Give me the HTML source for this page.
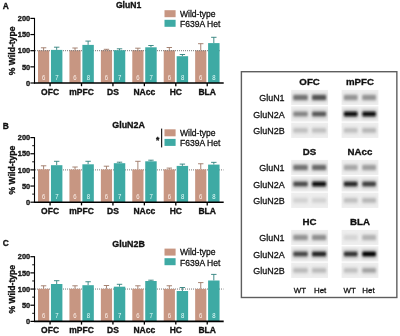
<!DOCTYPE html>
<html><head><meta charset="utf-8"><style>
html,body{margin:0;padding:0;background:#fff;width:400px;height:336px;overflow:hidden}
svg{display:block;will-change:transform}
text{font-family:"Liberation Sans", sans-serif;fill:#111}
.b{font-weight:bold;stroke:#111;stroke-width:0.32px}
.r{stroke:#111;stroke-width:0.28px}
.nn{fill:#fbeee8;stroke:none}
.nt{fill:#e4fbf9}
</style></head><body>
<svg width="400" height="336" viewBox="0 0 400 336">
<defs>
<filter id="blur" x="-30%" y="-100%" width="160%" height="300%"><feGaussianBlur stdDeviation="1.0"/></filter>
<filter id="halo" x="-30%" y="-60%" width="160%" height="220%"><feGaussianBlur stdDeviation="1.5"/></filter>
<filter id="soft" x="-10%" y="-20%" width="120%" height="140%"><feGaussianBlur stdDeviation="0.5"/></filter>
</defs>
<rect width="400" height="336" fill="#fff"/>
<text x="2.7" y="8.60" class="b" font-size="8.4">A</text>
<text x="128.6" y="8.20" class="b" font-size="8.6" text-anchor="middle">GluN1</text>
<rect x="164.5" y="10.20" width="11.1" height="7" fill="#c79682"/>
<rect x="164.5" y="19.80" width="11.1" height="7.0" fill="#3eaaa4"/>
<text x="180" y="17.00" class="r" font-size="8.55">Wild-type</text>
<text x="180" y="27.10" class="r" font-size="8.55">F639A Het</text>
<text transform="translate(15.2 50.90) rotate(-90)" x="0" y="0" class="b" font-size="8.6" text-anchor="middle">% Wild-type</text>
<line x1="43.60" y1="50.30" x2="43.60" y2="47.80" stroke="#9c7664" stroke-width="0.9"/>
<line x1="40.90" y1="47.80" x2="46.30" y2="47.80" stroke="#9c7664" stroke-width="0.9"/>
<rect x="38.00" y="50.30" width="11.2" height="32.70" fill="#c79682"/>
<line x1="75.03" y1="50.30" x2="75.03" y2="48.00" stroke="#9c7664" stroke-width="0.9"/>
<line x1="72.33" y1="48.00" x2="77.73" y2="48.00" stroke="#9c7664" stroke-width="0.9"/>
<rect x="69.43" y="50.30" width="11.2" height="32.70" fill="#c79682"/>
<line x1="106.46" y1="50.20" x2="106.46" y2="49.30" stroke="#9c7664" stroke-width="0.9"/>
<line x1="103.76" y1="49.30" x2="109.16" y2="49.30" stroke="#9c7664" stroke-width="0.9"/>
<rect x="100.86" y="50.20" width="11.2" height="32.80" fill="#c79682"/>
<line x1="137.89" y1="50.20" x2="137.89" y2="48.20" stroke="#9c7664" stroke-width="0.9"/>
<line x1="135.19" y1="48.20" x2="140.59" y2="48.20" stroke="#9c7664" stroke-width="0.9"/>
<rect x="132.29" y="50.20" width="11.2" height="32.80" fill="#c79682"/>
<line x1="169.32" y1="50.30" x2="169.32" y2="47.50" stroke="#9c7664" stroke-width="0.9"/>
<line x1="166.62" y1="47.50" x2="172.02" y2="47.50" stroke="#9c7664" stroke-width="0.9"/>
<rect x="163.72" y="50.30" width="11.2" height="32.70" fill="#c79682"/>
<line x1="200.75" y1="50.40" x2="200.75" y2="43.70" stroke="#9c7664" stroke-width="0.9"/>
<line x1="198.05" y1="43.70" x2="203.45" y2="43.70" stroke="#9c7664" stroke-width="0.9"/>
<rect x="195.15" y="50.40" width="11.2" height="32.60" fill="#c79682"/>
<line x1="35" y1="50.70" x2="219.8" y2="50.70" stroke="#777777" stroke-width="1" stroke-dasharray="1 1"/>
<line x1="56.68" y1="49.90" x2="56.68" y2="47.20" stroke="#2f807c" stroke-width="0.9"/>
<line x1="53.98" y1="47.20" x2="59.38" y2="47.20" stroke="#2f807c" stroke-width="0.9"/>
<rect x="50.95" y="49.90" width="11.45" height="33.10" fill="#3eaaa4"/>
<line x1="88.11" y1="44.90" x2="88.11" y2="41.10" stroke="#2f807c" stroke-width="0.9"/>
<line x1="85.41" y1="41.10" x2="90.81" y2="41.10" stroke="#2f807c" stroke-width="0.9"/>
<rect x="82.38" y="44.90" width="11.45" height="38.10" fill="#3eaaa4"/>
<line x1="119.53" y1="50.20" x2="119.53" y2="48.80" stroke="#2f807c" stroke-width="0.9"/>
<line x1="116.83" y1="48.80" x2="122.23" y2="48.80" stroke="#2f807c" stroke-width="0.9"/>
<rect x="113.81" y="50.20" width="11.45" height="32.80" fill="#3eaaa4"/>
<line x1="150.96" y1="47.30" x2="150.96" y2="45.50" stroke="#2f807c" stroke-width="0.9"/>
<line x1="148.26" y1="45.50" x2="153.66" y2="45.50" stroke="#2f807c" stroke-width="0.9"/>
<rect x="145.24" y="47.30" width="11.45" height="35.70" fill="#3eaaa4"/>
<line x1="182.39" y1="56.20" x2="182.39" y2="54.50" stroke="#2f807c" stroke-width="0.9"/>
<line x1="179.69" y1="54.50" x2="185.09" y2="54.50" stroke="#2f807c" stroke-width="0.9"/>
<rect x="176.67" y="56.20" width="11.45" height="26.80" fill="#3eaaa4"/>
<line x1="213.82" y1="43.10" x2="213.82" y2="37.30" stroke="#2f807c" stroke-width="0.9"/>
<line x1="211.12" y1="37.30" x2="216.52" y2="37.30" stroke="#2f807c" stroke-width="0.9"/>
<rect x="208.10" y="43.10" width="11.45" height="39.90" fill="#3eaaa4"/>
<text transform="translate(43.60 79.70) scale(1 1.2)" class="r nn" font-size="6" text-anchor="middle">6</text>
<text transform="translate(56.88 79.70) scale(1 1.2)" class="r nn nt" font-size="6" text-anchor="middle">7</text>
<line x1="50.08" y1="83.00" x2="50.08" y2="86.20" stroke="#000" stroke-width="1.3"/>
<text x="50.08" y="94.80" class="b" font-size="8.5" text-anchor="middle">OFC</text>
<text transform="translate(75.03 79.70) scale(1 1.2)" class="r nn" font-size="6" text-anchor="middle">6</text>
<text transform="translate(88.31 79.70) scale(1 1.2)" class="r nn nt" font-size="6" text-anchor="middle">8</text>
<line x1="81.51" y1="83.00" x2="81.51" y2="86.20" stroke="#000" stroke-width="1.3"/>
<text x="81.51" y="94.80" class="b" font-size="8.5" text-anchor="middle">mPFC</text>
<text transform="translate(106.46 79.70) scale(1 1.2)" class="r nn" font-size="6" text-anchor="middle">6</text>
<text transform="translate(119.73 79.70) scale(1 1.2)" class="r nn nt" font-size="6" text-anchor="middle">7</text>
<line x1="112.94" y1="83.00" x2="112.94" y2="86.20" stroke="#000" stroke-width="1.3"/>
<text x="112.94" y="94.80" class="b" font-size="8.5" text-anchor="middle">DS</text>
<text transform="translate(137.89 79.70) scale(1 1.2)" class="r nn" font-size="6" text-anchor="middle">6</text>
<text transform="translate(151.16 79.70) scale(1 1.2)" class="r nn nt" font-size="6" text-anchor="middle">7</text>
<line x1="144.36" y1="83.00" x2="144.36" y2="86.20" stroke="#000" stroke-width="1.3"/>
<text x="144.36" y="94.80" class="b" font-size="8.5" text-anchor="middle">NAcc</text>
<text transform="translate(169.32 79.70) scale(1 1.2)" class="r nn" font-size="6" text-anchor="middle">6</text>
<text transform="translate(182.59 79.70) scale(1 1.2)" class="r nn nt" font-size="6" text-anchor="middle">8</text>
<line x1="175.79" y1="83.00" x2="175.79" y2="86.20" stroke="#000" stroke-width="1.3"/>
<text x="175.79" y="94.80" class="b" font-size="8.5" text-anchor="middle">HC</text>
<text transform="translate(200.75 79.70) scale(1 1.2)" class="r nn" font-size="6" text-anchor="middle">6</text>
<text transform="translate(214.02 79.70) scale(1 1.2)" class="r nn nt" font-size="6" text-anchor="middle">8</text>
<line x1="207.22" y1="83.00" x2="207.22" y2="86.20" stroke="#000" stroke-width="1.3"/>
<text x="207.22" y="94.80" class="b" font-size="8.5" text-anchor="middle">BLA</text>
<line x1="34.50" y1="17.90" x2="34.50" y2="83.60" stroke="#000" stroke-width="1.1"/>
<line x1="33.90" y1="83.00" x2="223.7" y2="83.00" stroke="#000" stroke-width="1.6"/>
<line x1="30.4" y1="83.00" x2="34.50" y2="83.00" stroke="#000" stroke-width="1.2"/>
<text x="30.2" y="85.70" class="b" font-size="7.4" text-anchor="end">0</text>
<line x1="30.4" y1="66.85" x2="34.50" y2="66.85" stroke="#000" stroke-width="1.2"/>
<text x="30.2" y="69.55" class="b" font-size="7.4" text-anchor="end">50</text>
<line x1="30.4" y1="50.70" x2="34.50" y2="50.70" stroke="#000" stroke-width="1.2"/>
<text x="30.2" y="53.40" class="b" font-size="7.4" text-anchor="end">100</text>
<line x1="30.4" y1="34.55" x2="34.50" y2="34.55" stroke="#000" stroke-width="1.2"/>
<text x="30.2" y="37.25" class="b" font-size="7.4" text-anchor="end">150</text>
<line x1="30.4" y1="18.40" x2="34.50" y2="18.40" stroke="#000" stroke-width="1.2"/>
<text x="30.2" y="21.10" class="b" font-size="7.4" text-anchor="end">200</text>
<text x="2.7" y="129.10" class="b" font-size="8.4">B</text>
<text x="128.6" y="127.90" class="b" font-size="8.9" text-anchor="middle">GluN2A</text>
<rect x="164.5" y="129.30" width="11.1" height="7" fill="#c79682"/>
<rect x="164.5" y="138.90" width="11.1" height="7.0" fill="#3eaaa4"/>
<text x="180" y="136.10" class="r" font-size="8.55">Wild-type</text>
<text x="180" y="146.20" class="r" font-size="8.55">F639A Het</text>
<rect x="161.0" y="128.6" width="1.2" height="18.8" fill="#222"/>
<text x="157.6" y="142.6" class="b" font-size="8.5" text-anchor="middle">*</text>
<text transform="translate(15.2 170.10) rotate(-90)" x="0" y="0" class="b" font-size="8.6" text-anchor="middle">% Wild-type</text>
<line x1="35" y1="169.90" x2="223.5" y2="169.90" stroke="#777777" stroke-width="1" stroke-dasharray="1 1"/>
<line x1="43.60" y1="169.30" x2="43.60" y2="165.80" stroke="#9c7664" stroke-width="0.9"/>
<line x1="40.90" y1="165.80" x2="46.30" y2="165.80" stroke="#9c7664" stroke-width="0.9"/>
<rect x="38.00" y="169.30" width="11.2" height="32.90" fill="#c79682"/>
<line x1="75.03" y1="169.50" x2="75.03" y2="167.00" stroke="#9c7664" stroke-width="0.9"/>
<line x1="72.33" y1="167.00" x2="77.73" y2="167.00" stroke="#9c7664" stroke-width="0.9"/>
<rect x="69.43" y="169.50" width="11.2" height="32.70" fill="#c79682"/>
<line x1="106.46" y1="169.50" x2="106.46" y2="166.20" stroke="#9c7664" stroke-width="0.9"/>
<line x1="103.76" y1="166.20" x2="109.16" y2="166.20" stroke="#9c7664" stroke-width="0.9"/>
<rect x="100.86" y="169.50" width="11.2" height="32.70" fill="#c79682"/>
<line x1="137.89" y1="169.50" x2="137.89" y2="161.30" stroke="#9c7664" stroke-width="0.9"/>
<line x1="135.19" y1="161.30" x2="140.59" y2="161.30" stroke="#9c7664" stroke-width="0.9"/>
<rect x="132.29" y="169.50" width="11.2" height="32.70" fill="#c79682"/>
<line x1="169.32" y1="169.40" x2="169.32" y2="168.10" stroke="#9c7664" stroke-width="0.9"/>
<line x1="166.62" y1="168.10" x2="172.02" y2="168.10" stroke="#9c7664" stroke-width="0.9"/>
<rect x="163.72" y="169.40" width="11.2" height="32.80" fill="#c79682"/>
<line x1="200.75" y1="169.40" x2="200.75" y2="163.75" stroke="#9c7664" stroke-width="0.9"/>
<line x1="198.05" y1="163.75" x2="203.45" y2="163.75" stroke="#9c7664" stroke-width="0.9"/>
<rect x="195.15" y="169.40" width="11.2" height="32.80" fill="#c79682"/>
<line x1="56.68" y1="165.20" x2="56.68" y2="161.30" stroke="#2f807c" stroke-width="0.9"/>
<line x1="53.98" y1="161.30" x2="59.38" y2="161.30" stroke="#2f807c" stroke-width="0.9"/>
<rect x="50.95" y="165.20" width="11.45" height="37.00" fill="#3eaaa4"/>
<line x1="88.11" y1="164.30" x2="88.11" y2="161.30" stroke="#2f807c" stroke-width="0.9"/>
<line x1="85.41" y1="161.30" x2="90.81" y2="161.30" stroke="#2f807c" stroke-width="0.9"/>
<rect x="82.38" y="164.30" width="11.45" height="37.90" fill="#3eaaa4"/>
<line x1="119.53" y1="163.20" x2="119.53" y2="162.20" stroke="#2f807c" stroke-width="0.9"/>
<line x1="116.83" y1="162.20" x2="122.23" y2="162.20" stroke="#2f807c" stroke-width="0.9"/>
<rect x="113.81" y="163.20" width="11.45" height="39.00" fill="#3eaaa4"/>
<line x1="150.96" y1="161.30" x2="150.96" y2="160.20" stroke="#2f807c" stroke-width="0.9"/>
<line x1="148.26" y1="160.20" x2="153.66" y2="160.20" stroke="#2f807c" stroke-width="0.9"/>
<rect x="145.24" y="161.30" width="11.45" height="40.90" fill="#3eaaa4"/>
<line x1="182.39" y1="165.90" x2="182.39" y2="164.10" stroke="#2f807c" stroke-width="0.9"/>
<line x1="179.69" y1="164.10" x2="185.09" y2="164.10" stroke="#2f807c" stroke-width="0.9"/>
<rect x="176.67" y="165.90" width="11.45" height="36.30" fill="#3eaaa4"/>
<line x1="213.82" y1="164.60" x2="213.82" y2="162.35" stroke="#2f807c" stroke-width="0.9"/>
<line x1="211.12" y1="162.35" x2="216.52" y2="162.35" stroke="#2f807c" stroke-width="0.9"/>
<rect x="208.10" y="164.60" width="11.45" height="37.60" fill="#3eaaa4"/>
<text transform="translate(43.60 198.90) scale(1 1.2)" class="r nn" font-size="6" text-anchor="middle">6</text>
<text transform="translate(56.88 198.90) scale(1 1.2)" class="r nn nt" font-size="6" text-anchor="middle">7</text>
<line x1="50.08" y1="202.20" x2="50.08" y2="205.40" stroke="#000" stroke-width="1.3"/>
<text x="50.08" y="214.00" class="b" font-size="8.5" text-anchor="middle">OFC</text>
<text transform="translate(75.03 198.90) scale(1 1.2)" class="r nn" font-size="6" text-anchor="middle">6</text>
<text transform="translate(88.31 198.90) scale(1 1.2)" class="r nn nt" font-size="6" text-anchor="middle">8</text>
<line x1="81.51" y1="202.20" x2="81.51" y2="205.40" stroke="#000" stroke-width="1.3"/>
<text x="81.51" y="214.00" class="b" font-size="8.5" text-anchor="middle">mPFC</text>
<text transform="translate(106.46 198.90) scale(1 1.2)" class="r nn" font-size="6" text-anchor="middle">6</text>
<text transform="translate(119.73 198.90) scale(1 1.2)" class="r nn nt" font-size="6" text-anchor="middle">7</text>
<line x1="112.94" y1="202.20" x2="112.94" y2="205.40" stroke="#000" stroke-width="1.3"/>
<text x="112.94" y="214.00" class="b" font-size="8.5" text-anchor="middle">DS</text>
<text transform="translate(137.89 198.90) scale(1 1.2)" class="r nn" font-size="6" text-anchor="middle">6</text>
<text transform="translate(151.16 198.90) scale(1 1.2)" class="r nn nt" font-size="6" text-anchor="middle">7</text>
<line x1="144.36" y1="202.20" x2="144.36" y2="205.40" stroke="#000" stroke-width="1.3"/>
<text x="144.36" y="214.00" class="b" font-size="8.5" text-anchor="middle">NAcc</text>
<text transform="translate(169.32 198.90) scale(1 1.2)" class="r nn" font-size="6" text-anchor="middle">6</text>
<text transform="translate(182.59 198.90) scale(1 1.2)" class="r nn nt" font-size="6" text-anchor="middle">8</text>
<line x1="175.79" y1="202.20" x2="175.79" y2="205.40" stroke="#000" stroke-width="1.3"/>
<text x="175.79" y="214.00" class="b" font-size="8.5" text-anchor="middle">HC</text>
<text transform="translate(200.75 198.90) scale(1 1.2)" class="r nn" font-size="6" text-anchor="middle">6</text>
<text transform="translate(214.02 198.90) scale(1 1.2)" class="r nn nt" font-size="6" text-anchor="middle">8</text>
<line x1="207.22" y1="202.20" x2="207.22" y2="205.40" stroke="#000" stroke-width="1.3"/>
<text x="207.22" y="214.00" class="b" font-size="8.5" text-anchor="middle">BLA</text>
<line x1="34.50" y1="137.10" x2="34.50" y2="202.80" stroke="#000" stroke-width="1.1"/>
<line x1="33.90" y1="202.20" x2="223.7" y2="202.20" stroke="#000" stroke-width="1.6"/>
<line x1="30.4" y1="202.20" x2="34.50" y2="202.20" stroke="#000" stroke-width="1.2"/>
<text x="30.2" y="204.90" class="b" font-size="7.4" text-anchor="end">0</text>
<line x1="30.4" y1="186.05" x2="34.50" y2="186.05" stroke="#000" stroke-width="1.2"/>
<text x="30.2" y="188.75" class="b" font-size="7.4" text-anchor="end">50</text>
<line x1="30.4" y1="169.90" x2="34.50" y2="169.90" stroke="#000" stroke-width="1.2"/>
<text x="30.2" y="172.60" class="b" font-size="7.4" text-anchor="end">100</text>
<line x1="30.4" y1="153.75" x2="34.50" y2="153.75" stroke="#000" stroke-width="1.2"/>
<text x="30.2" y="156.45" class="b" font-size="7.4" text-anchor="end">150</text>
<line x1="30.4" y1="137.60" x2="34.50" y2="137.60" stroke="#000" stroke-width="1.2"/>
<text x="30.2" y="140.30" class="b" font-size="7.4" text-anchor="end">200</text>
<line x1="32.2" y1="194.12" x2="34.50" y2="194.12" stroke="#111" stroke-width="1.0"/>
<line x1="32.2" y1="177.97" x2="34.50" y2="177.97" stroke="#111" stroke-width="1.0"/>
<line x1="32.2" y1="161.82" x2="34.50" y2="161.82" stroke="#111" stroke-width="1.0"/>
<line x1="32.2" y1="145.68" x2="34.50" y2="145.68" stroke="#111" stroke-width="1.0"/>
<text x="2.7" y="245.60" class="b" font-size="8.4">C</text>
<text x="128.6" y="247.20" class="b" font-size="8.9" text-anchor="middle">GluN2B</text>
<rect x="164.5" y="248.60" width="11.1" height="7" fill="#c79682"/>
<rect x="164.5" y="258.20" width="11.1" height="7.0" fill="#3eaaa4"/>
<text x="180" y="255.40" class="r" font-size="8.55">Wild-type</text>
<text x="180" y="265.50" class="r" font-size="8.55">F639A Het</text>
<text transform="translate(15.2 289.25) rotate(-90)" x="0" y="0" class="b" font-size="8.6" text-anchor="middle">% Wild-type</text>
<line x1="35" y1="289.05" x2="223.5" y2="289.05" stroke="#777777" stroke-width="1" stroke-dasharray="1 1"/>
<line x1="43.60" y1="288.80" x2="43.60" y2="285.80" stroke="#9c7664" stroke-width="0.9"/>
<line x1="40.90" y1="285.80" x2="46.30" y2="285.80" stroke="#9c7664" stroke-width="0.9"/>
<rect x="38.00" y="288.80" width="11.2" height="32.60" fill="#c79682"/>
<line x1="75.03" y1="288.80" x2="75.03" y2="285.80" stroke="#9c7664" stroke-width="0.9"/>
<line x1="72.33" y1="285.80" x2="77.73" y2="285.80" stroke="#9c7664" stroke-width="0.9"/>
<rect x="69.43" y="288.80" width="11.2" height="32.60" fill="#c79682"/>
<line x1="106.46" y1="288.80" x2="106.46" y2="285.50" stroke="#9c7664" stroke-width="0.9"/>
<line x1="103.76" y1="285.50" x2="109.16" y2="285.50" stroke="#9c7664" stroke-width="0.9"/>
<rect x="100.86" y="288.80" width="11.2" height="32.60" fill="#c79682"/>
<line x1="137.89" y1="288.80" x2="137.89" y2="285.80" stroke="#9c7664" stroke-width="0.9"/>
<line x1="135.19" y1="285.80" x2="140.59" y2="285.80" stroke="#9c7664" stroke-width="0.9"/>
<rect x="132.29" y="288.80" width="11.2" height="32.60" fill="#c79682"/>
<line x1="169.32" y1="288.90" x2="169.32" y2="285.75" stroke="#9c7664" stroke-width="0.9"/>
<line x1="166.62" y1="285.75" x2="172.02" y2="285.75" stroke="#9c7664" stroke-width="0.9"/>
<rect x="163.72" y="288.90" width="11.2" height="32.50" fill="#c79682"/>
<line x1="200.75" y1="288.90" x2="200.75" y2="282.60" stroke="#9c7664" stroke-width="0.9"/>
<line x1="198.05" y1="282.60" x2="203.45" y2="282.60" stroke="#9c7664" stroke-width="0.9"/>
<rect x="195.15" y="288.90" width="11.2" height="32.50" fill="#c79682"/>
<line x1="56.68" y1="284.00" x2="56.68" y2="280.70" stroke="#2f807c" stroke-width="0.9"/>
<line x1="53.98" y1="280.70" x2="59.38" y2="280.70" stroke="#2f807c" stroke-width="0.9"/>
<rect x="50.95" y="284.00" width="11.45" height="37.40" fill="#3eaaa4"/>
<line x1="88.11" y1="285.20" x2="88.11" y2="281.75" stroke="#2f807c" stroke-width="0.9"/>
<line x1="85.41" y1="281.75" x2="90.81" y2="281.75" stroke="#2f807c" stroke-width="0.9"/>
<rect x="82.38" y="285.20" width="11.45" height="36.20" fill="#3eaaa4"/>
<line x1="119.53" y1="286.70" x2="119.53" y2="284.30" stroke="#2f807c" stroke-width="0.9"/>
<line x1="116.83" y1="284.30" x2="122.23" y2="284.30" stroke="#2f807c" stroke-width="0.9"/>
<rect x="113.81" y="286.70" width="11.45" height="34.70" fill="#3eaaa4"/>
<line x1="150.96" y1="281.00" x2="150.96" y2="280.20" stroke="#2f807c" stroke-width="0.9"/>
<line x1="148.26" y1="280.20" x2="153.66" y2="280.20" stroke="#2f807c" stroke-width="0.9"/>
<rect x="145.24" y="281.00" width="11.45" height="40.40" fill="#3eaaa4"/>
<line x1="182.39" y1="291.00" x2="182.39" y2="287.50" stroke="#2f807c" stroke-width="0.9"/>
<line x1="179.69" y1="287.50" x2="185.09" y2="287.50" stroke="#2f807c" stroke-width="0.9"/>
<rect x="176.67" y="291.00" width="11.45" height="30.40" fill="#3eaaa4"/>
<line x1="213.82" y1="280.50" x2="213.82" y2="274.40" stroke="#2f807c" stroke-width="0.9"/>
<line x1="211.12" y1="274.40" x2="216.52" y2="274.40" stroke="#2f807c" stroke-width="0.9"/>
<rect x="208.10" y="280.50" width="11.45" height="40.90" fill="#3eaaa4"/>
<text transform="translate(43.60 318.10) scale(1 1.2)" class="r nn" font-size="6" text-anchor="middle">6</text>
<text transform="translate(56.88 318.10) scale(1 1.2)" class="r nn nt" font-size="6" text-anchor="middle">7</text>
<line x1="50.08" y1="321.40" x2="50.08" y2="324.60" stroke="#000" stroke-width="1.3"/>
<text x="50.08" y="333.20" class="b" font-size="8.5" text-anchor="middle">OFC</text>
<text transform="translate(75.03 318.10) scale(1 1.2)" class="r nn" font-size="6" text-anchor="middle">6</text>
<text transform="translate(88.31 318.10) scale(1 1.2)" class="r nn nt" font-size="6" text-anchor="middle">8</text>
<line x1="81.51" y1="321.40" x2="81.51" y2="324.60" stroke="#000" stroke-width="1.3"/>
<text x="81.51" y="333.20" class="b" font-size="8.5" text-anchor="middle">mPFC</text>
<text transform="translate(106.46 318.10) scale(1 1.2)" class="r nn" font-size="6" text-anchor="middle">6</text>
<text transform="translate(119.73 318.10) scale(1 1.2)" class="r nn nt" font-size="6" text-anchor="middle">7</text>
<line x1="112.94" y1="321.40" x2="112.94" y2="324.60" stroke="#000" stroke-width="1.3"/>
<text x="112.94" y="333.20" class="b" font-size="8.5" text-anchor="middle">DS</text>
<text transform="translate(137.89 318.10) scale(1 1.2)" class="r nn" font-size="6" text-anchor="middle">6</text>
<text transform="translate(151.16 318.10) scale(1 1.2)" class="r nn nt" font-size="6" text-anchor="middle">7</text>
<line x1="144.36" y1="321.40" x2="144.36" y2="324.60" stroke="#000" stroke-width="1.3"/>
<text x="144.36" y="333.20" class="b" font-size="8.5" text-anchor="middle">NAcc</text>
<text transform="translate(169.32 318.10) scale(1 1.2)" class="r nn" font-size="6" text-anchor="middle">6</text>
<text transform="translate(182.59 318.10) scale(1 1.2)" class="r nn nt" font-size="6" text-anchor="middle">8</text>
<line x1="175.79" y1="321.40" x2="175.79" y2="324.60" stroke="#000" stroke-width="1.3"/>
<text x="175.79" y="333.20" class="b" font-size="8.5" text-anchor="middle">HC</text>
<text transform="translate(200.75 318.10) scale(1 1.2)" class="r nn" font-size="6" text-anchor="middle">6</text>
<text transform="translate(214.02 318.10) scale(1 1.2)" class="r nn nt" font-size="6" text-anchor="middle">8</text>
<line x1="207.22" y1="321.40" x2="207.22" y2="324.60" stroke="#000" stroke-width="1.3"/>
<text x="207.22" y="333.20" class="b" font-size="8.5" text-anchor="middle">BLA</text>
<line x1="34.50" y1="256.20" x2="34.50" y2="322.00" stroke="#000" stroke-width="1.1"/>
<line x1="33.90" y1="321.40" x2="223.7" y2="321.40" stroke="#000" stroke-width="1.6"/>
<line x1="30.4" y1="321.40" x2="34.50" y2="321.40" stroke="#000" stroke-width="1.2"/>
<text x="30.2" y="324.10" class="b" font-size="7.4" text-anchor="end">0</text>
<line x1="30.4" y1="305.22" x2="34.50" y2="305.22" stroke="#000" stroke-width="1.2"/>
<text x="30.2" y="307.92" class="b" font-size="7.4" text-anchor="end">50</text>
<line x1="30.4" y1="289.05" x2="34.50" y2="289.05" stroke="#000" stroke-width="1.2"/>
<text x="30.2" y="291.75" class="b" font-size="7.4" text-anchor="end">100</text>
<line x1="30.4" y1="272.88" x2="34.50" y2="272.88" stroke="#000" stroke-width="1.2"/>
<text x="30.2" y="275.57" class="b" font-size="7.4" text-anchor="end">150</text>
<line x1="30.4" y1="256.70" x2="34.50" y2="256.70" stroke="#000" stroke-width="1.2"/>
<text x="30.2" y="259.40" class="b" font-size="7.4" text-anchor="end">200</text>
<line x1="32.2" y1="313.31" x2="34.50" y2="313.31" stroke="#111" stroke-width="1.0"/>
<line x1="32.2" y1="297.14" x2="34.50" y2="297.14" stroke="#111" stroke-width="1.0"/>
<line x1="32.2" y1="280.96" x2="34.50" y2="280.96" stroke="#111" stroke-width="1.0"/>
<line x1="32.2" y1="264.79" x2="34.50" y2="264.79" stroke="#111" stroke-width="1.0"/>
<rect x="241.4" y="71.7" width="155.45" height="225.8" fill="none" stroke="#5e5e5e" stroke-width="1.4"/>
<text x="309.60" y="85.00" class="b" font-size="9.7" text-anchor="middle">OFC</text>
<rect x="291.20" y="89.90" width="36.8" height="15.2" fill="#eeeeee" filter="url(#soft)"/>
<rect x="292.60" y="93.10" width="15.80" height="9" fill="rgb(117,117,117)" opacity="0.22" filter="url(#halo)"/>
<rect x="293.40" y="95.10" width="14.20" height="5.0" rx="1.2" fill="rgb(117,117,117)" filter="url(#blur)"/>
<rect x="311.40" y="93.10" width="15.40" height="9" fill="rgb(84,84,84)" opacity="0.22" filter="url(#halo)"/>
<rect x="312.20" y="95.10" width="13.80" height="5.0" rx="1.2" fill="rgb(84,84,84)" filter="url(#blur)"/>
<rect x="291.20" y="106.30" width="36.8" height="15.2" fill="#eeeeee" filter="url(#soft)"/>
<rect x="292.60" y="109.50" width="15.80" height="9" fill="rgb(133,133,133)" opacity="0.22" filter="url(#halo)"/>
<rect x="293.40" y="111.80" width="14.20" height="4.4" rx="1.2" fill="rgb(133,133,133)" filter="url(#blur)"/>
<rect x="311.40" y="109.50" width="15.40" height="9" fill="rgb(89,89,89)" opacity="0.22" filter="url(#halo)"/>
<rect x="312.20" y="111.80" width="13.80" height="4.4" rx="1.2" fill="rgb(89,89,89)" filter="url(#blur)"/>
<rect x="291.20" y="122.70" width="36.8" height="15.2" fill="#eeeeee" filter="url(#soft)"/>
<rect x="292.60" y="125.90" width="15.80" height="9" fill="rgb(191,191,191)" opacity="0.22" filter="url(#halo)"/>
<rect x="293.40" y="128.20" width="14.20" height="4.4" rx="1.2" fill="rgb(191,191,191)" filter="url(#blur)"/>
<rect x="311.40" y="125.90" width="15.40" height="9" fill="rgb(191,191,191)" opacity="0.22" filter="url(#halo)"/>
<rect x="312.20" y="128.20" width="13.80" height="4.4" rx="1.2" fill="rgb(191,191,191)" filter="url(#blur)"/>
<text x="360.00" y="85.00" class="b" font-size="9.7" text-anchor="middle">mPFC</text>
<rect x="341.60" y="89.90" width="36.8" height="15.2" fill="#eeeeee" filter="url(#soft)"/>
<rect x="343.20" y="93.10" width="15.00" height="9" fill="rgb(149,149,149)" opacity="0.22" filter="url(#halo)"/>
<rect x="344.00" y="95.10" width="13.40" height="5.0" rx="1.2" fill="rgb(149,149,149)" filter="url(#blur)"/>
<rect x="361.60" y="93.10" width="15.00" height="9" fill="rgb(149,149,149)" opacity="0.22" filter="url(#halo)"/>
<rect x="362.40" y="95.10" width="13.40" height="5.0" rx="1.2" fill="rgb(149,149,149)" filter="url(#blur)"/>
<rect x="341.60" y="106.30" width="36.8" height="15.2" fill="#eeeeee" filter="url(#soft)"/>
<rect x="343.20" y="109.50" width="15.00" height="9" fill="rgb(17,17,17)" opacity="0.22" filter="url(#halo)"/>
<rect x="344.00" y="111.80" width="13.40" height="4.4" rx="1.2" fill="rgb(17,17,17)" filter="url(#blur)"/>
<rect x="361.60" y="109.50" width="15.00" height="9" fill="rgb(17,17,17)" opacity="0.22" filter="url(#halo)"/>
<rect x="362.40" y="111.80" width="13.40" height="4.4" rx="1.2" fill="rgb(17,17,17)" filter="url(#blur)"/>
<rect x="341.60" y="122.70" width="36.8" height="15.2" fill="#eeeeee" filter="url(#soft)"/>
<rect x="343.20" y="125.90" width="15.00" height="9" fill="rgb(191,191,191)" opacity="0.22" filter="url(#halo)"/>
<rect x="344.00" y="128.20" width="13.40" height="4.4" rx="1.2" fill="rgb(191,191,191)" filter="url(#blur)"/>
<rect x="361.60" y="125.90" width="15.00" height="9" fill="rgb(182,182,182)" opacity="0.22" filter="url(#halo)"/>
<rect x="362.40" y="128.20" width="13.40" height="4.4" rx="1.2" fill="rgb(182,182,182)" filter="url(#blur)"/>
<text x="284.6" y="101.30" class="r" font-size="8.95" text-anchor="end">GluN1</text>
<text x="284.6" y="117.70" class="r" font-size="8.95" text-anchor="end">GluN2A</text>
<text x="284.6" y="134.10" class="r" font-size="8.95" text-anchor="end">GluN2B</text>
<text x="309.60" y="155.00" class="b" font-size="9.7" text-anchor="middle">DS</text>
<rect x="291.20" y="159.90" width="36.8" height="15.2" fill="#eeeeee" filter="url(#soft)"/>
<rect x="292.60" y="163.10" width="15.80" height="9" fill="rgb(117,117,117)" opacity="0.22" filter="url(#halo)"/>
<rect x="293.40" y="165.10" width="14.20" height="5.0" rx="1.2" fill="rgb(117,117,117)" filter="url(#blur)"/>
<rect x="311.40" y="163.10" width="15.40" height="9" fill="rgb(108,108,108)" opacity="0.22" filter="url(#halo)"/>
<rect x="312.20" y="165.10" width="13.80" height="5.0" rx="1.2" fill="rgb(108,108,108)" filter="url(#blur)"/>
<rect x="291.20" y="176.30" width="36.8" height="15.2" fill="#eeeeee" filter="url(#soft)"/>
<rect x="292.60" y="179.50" width="15.80" height="9" fill="rgb(75,75,75)" opacity="0.22" filter="url(#halo)"/>
<rect x="293.40" y="181.80" width="14.20" height="4.4" rx="1.2" fill="rgb(75,75,75)" filter="url(#blur)"/>
<rect x="311.40" y="179.50" width="15.40" height="9" fill="rgb(17,17,17)" opacity="0.22" filter="url(#halo)"/>
<rect x="312.20" y="181.80" width="13.80" height="4.4" rx="1.2" fill="rgb(17,17,17)" filter="url(#blur)"/>
<rect x="291.20" y="192.70" width="36.8" height="15.2" fill="#eeeeee" filter="url(#soft)"/>
<rect x="292.60" y="195.90" width="15.80" height="9" fill="rgb(210,210,210)" opacity="0.22" filter="url(#halo)"/>
<rect x="293.40" y="198.20" width="14.20" height="4.4" rx="1.2" fill="rgb(210,210,210)" filter="url(#blur)"/>
<rect x="311.40" y="195.90" width="15.40" height="9" fill="rgb(210,210,210)" opacity="0.22" filter="url(#halo)"/>
<rect x="312.20" y="198.20" width="13.80" height="4.4" rx="1.2" fill="rgb(210,210,210)" filter="url(#blur)"/>
<text x="360.00" y="155.00" class="b" font-size="9.7" text-anchor="middle">NAcc</text>
<rect x="341.60" y="159.90" width="36.8" height="15.2" fill="#eeeeee" filter="url(#soft)"/>
<rect x="343.20" y="163.10" width="15.00" height="9" fill="rgb(168,168,168)" opacity="0.22" filter="url(#halo)"/>
<rect x="344.00" y="165.10" width="13.40" height="5.0" rx="1.2" fill="rgb(168,168,168)" filter="url(#blur)"/>
<rect x="361.60" y="163.10" width="15.00" height="9" fill="rgb(159,159,159)" opacity="0.22" filter="url(#halo)"/>
<rect x="362.40" y="165.10" width="13.40" height="5.0" rx="1.2" fill="rgb(159,159,159)" filter="url(#blur)"/>
<rect x="341.60" y="176.30" width="36.8" height="15.2" fill="#eeeeee" filter="url(#soft)"/>
<rect x="343.20" y="179.50" width="15.00" height="9" fill="rgb(40,40,40)" opacity="0.22" filter="url(#halo)"/>
<rect x="344.00" y="181.80" width="13.40" height="4.4" rx="1.2" fill="rgb(40,40,40)" filter="url(#blur)"/>
<rect x="361.60" y="179.50" width="15.00" height="9" fill="rgb(64,64,64)" opacity="0.22" filter="url(#halo)"/>
<rect x="362.40" y="181.80" width="13.40" height="4.4" rx="1.2" fill="rgb(64,64,64)" filter="url(#blur)"/>
<rect x="341.60" y="192.70" width="36.8" height="15.2" fill="#eeeeee" filter="url(#soft)"/>
<rect x="343.20" y="195.90" width="15.00" height="9" fill="rgb(191,191,191)" opacity="0.22" filter="url(#halo)"/>
<rect x="344.00" y="198.20" width="13.40" height="4.4" rx="1.2" fill="rgb(191,191,191)" filter="url(#blur)"/>
<rect x="361.60" y="195.90" width="15.00" height="9" fill="rgb(182,182,182)" opacity="0.22" filter="url(#halo)"/>
<rect x="362.40" y="198.20" width="13.40" height="4.4" rx="1.2" fill="rgb(182,182,182)" filter="url(#blur)"/>
<text x="284.6" y="171.30" class="r" font-size="8.95" text-anchor="end">GluN1</text>
<text x="284.6" y="187.70" class="r" font-size="8.95" text-anchor="end">GluN2A</text>
<text x="284.6" y="204.10" class="r" font-size="8.95" text-anchor="end">GluN2B</text>
<text x="309.60" y="225.00" class="b" font-size="9.7" text-anchor="middle">HC</text>
<rect x="291.20" y="229.90" width="36.8" height="15.2" fill="#eeeeee" filter="url(#soft)"/>
<rect x="292.60" y="233.10" width="15.80" height="9" fill="rgb(149,149,149)" opacity="0.22" filter="url(#halo)"/>
<rect x="293.40" y="235.10" width="14.20" height="5.0" rx="1.2" fill="rgb(149,149,149)" filter="url(#blur)"/>
<rect x="311.40" y="233.10" width="15.40" height="9" fill="rgb(145,145,145)" opacity="0.22" filter="url(#halo)"/>
<rect x="312.20" y="235.10" width="13.80" height="5.0" rx="1.2" fill="rgb(145,145,145)" filter="url(#blur)"/>
<rect x="291.20" y="246.30" width="36.8" height="15.2" fill="#eeeeee" filter="url(#soft)"/>
<rect x="292.60" y="249.50" width="15.80" height="9" fill="rgb(70,70,70)" opacity="0.22" filter="url(#halo)"/>
<rect x="293.40" y="251.80" width="14.20" height="4.4" rx="1.2" fill="rgb(70,70,70)" filter="url(#blur)"/>
<rect x="311.40" y="249.50" width="15.40" height="9" fill="rgb(33,33,33)" opacity="0.22" filter="url(#halo)"/>
<rect x="312.20" y="251.80" width="13.80" height="4.4" rx="1.2" fill="rgb(33,33,33)" filter="url(#blur)"/>
<rect x="291.20" y="262.70" width="36.8" height="15.2" fill="#eeeeee" filter="url(#soft)"/>
<rect x="292.60" y="265.90" width="15.80" height="9" fill="rgb(186,186,186)" opacity="0.22" filter="url(#halo)"/>
<rect x="293.40" y="268.20" width="14.20" height="4.4" rx="1.2" fill="rgb(186,186,186)" filter="url(#blur)"/>
<rect x="311.40" y="265.90" width="15.40" height="9" fill="rgb(186,186,186)" opacity="0.22" filter="url(#halo)"/>
<rect x="312.20" y="268.20" width="13.80" height="4.4" rx="1.2" fill="rgb(186,186,186)" filter="url(#blur)"/>
<text x="360.00" y="225.00" class="b" font-size="9.7" text-anchor="middle">BLA</text>
<rect x="341.60" y="229.90" width="36.8" height="15.2" fill="#eeeeee" filter="url(#soft)"/>
<rect x="343.20" y="233.10" width="15.00" height="9" fill="rgb(214,214,214)" opacity="0.22" filter="url(#halo)"/>
<rect x="344.00" y="235.10" width="13.40" height="5.0" rx="1.2" fill="rgb(214,214,214)" filter="url(#blur)"/>
<rect x="361.60" y="233.10" width="15.00" height="9" fill="rgb(180,180,180)" opacity="0.22" filter="url(#halo)"/>
<rect x="362.40" y="235.10" width="13.40" height="5.0" rx="1.2" fill="rgb(180,180,180)" filter="url(#blur)"/>
<rect x="341.60" y="246.30" width="36.8" height="15.2" fill="#eeeeee" filter="url(#soft)"/>
<rect x="343.20" y="249.50" width="15.00" height="9" fill="rgb(52,52,52)" opacity="0.22" filter="url(#halo)"/>
<rect x="344.00" y="251.80" width="13.40" height="4.4" rx="1.2" fill="rgb(52,52,52)" filter="url(#blur)"/>
<rect x="361.60" y="249.50" width="15.00" height="9" fill="rgb(6,6,6)" opacity="0.22" filter="url(#halo)"/>
<rect x="362.40" y="251.80" width="13.40" height="4.4" rx="1.2" fill="rgb(6,6,6)" filter="url(#blur)"/>
<rect x="341.60" y="262.70" width="36.8" height="15.2" fill="#eeeeee" filter="url(#soft)"/>
<rect x="343.20" y="265.90" width="15.00" height="9" fill="rgb(191,191,191)" opacity="0.22" filter="url(#halo)"/>
<rect x="344.00" y="268.20" width="13.40" height="4.4" rx="1.2" fill="rgb(191,191,191)" filter="url(#blur)"/>
<rect x="361.60" y="265.90" width="15.00" height="9" fill="rgb(161,161,161)" opacity="0.22" filter="url(#halo)"/>
<rect x="362.40" y="268.20" width="13.40" height="4.4" rx="1.2" fill="rgb(161,161,161)" filter="url(#blur)"/>
<text x="284.6" y="241.30" class="r" font-size="8.95" text-anchor="end">GluN1</text>
<text x="284.6" y="257.70" class="r" font-size="8.95" text-anchor="end">GluN2A</text>
<text x="284.6" y="274.10" class="r" font-size="8.95" text-anchor="end">GluN2B</text>
<text x="299.90" y="293.2" class="r" font-size="7.9" text-anchor="middle">WT</text>
<text x="320.10" y="293.2" class="r" font-size="7.9" text-anchor="middle">Het</text>
<text x="349.60" y="293.2" class="r" font-size="7.9" text-anchor="middle">WT</text>
<text x="368.50" y="293.2" class="r" font-size="7.9" text-anchor="middle">Het</text>
</svg>
</body></html>
